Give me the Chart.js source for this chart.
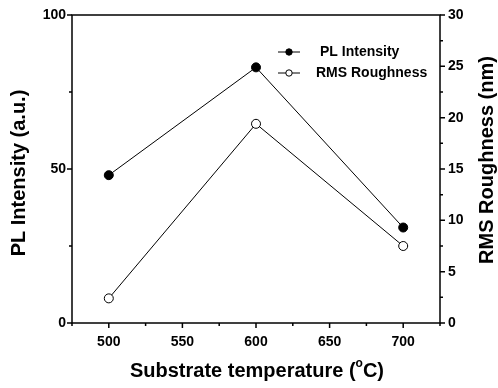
<!DOCTYPE html>
<html>
<head>
<meta charset="utf-8">
<script src="https://cdn.jsdelivr.net/npm/chart.js@4.4.0/dist/chart.umd.min.js"></script>
<style>
  html, body { margin: 0; padding: 0; background: #fff; }
  #wrap { width: 498px; height: 388px; position: relative; }
</style>
</head>
<body>
<div id="wrap"><canvas id="chart"></canvas></div>
<script>
// data
const temperatures = [500, 600, 700];
const plIntensity = [48, 83, 31];        // a.u., left axis
const rmsRoughness = [2.4, 19.4, 7.5];   // nm, right axis

const seriesNames = ['PL Intensity', 'RMS Roughness'];
const axisTitles = { x: 'Substrate temperature (', xUnit: 'C)', y: 'PL Intensity (a.u.)', y2: 'RMS Roughness (nm)' };
const FONT = '"Liberation Sans", Arial, Helvetica, sans-serif';

// frame, tick marks (major/minor), axis titles and inline legend
const framePlugin = {
  id: 'frame',
  afterDraw(chart) {
    const { ctx, chartArea: a, scales } = chart;
    ctx.save();
    ctx.strokeStyle = '#000';
    ctx.lineWidth = 1.5;
    ctx.strokeRect(a.left, a.top, a.right - a.left, a.bottom - a.top);

    ctx.beginPath();
    scales.x.ticks.forEach(t => {
      const px = scales.x.getPixelForValue(t.value);
      const len = t.value % 50 === 0 ? 5 : 3;
      ctx.moveTo(px, a.bottom); ctx.lineTo(px, a.bottom + len);
    });
    scales.y.ticks.forEach(t => {
      const py = scales.y.getPixelForValue(t.value);
      const len = t.value % 50 === 0 ? 5 : 3;
      ctx.moveTo(a.left, py); ctx.lineTo(a.left - len, py);
    });
    scales.y2.ticks.forEach(t => {
      const py = scales.y2.getPixelForValue(t.value);
      const len = t.value % 5 === 0 ? 5 : 3;
      ctx.moveTo(a.right, py); ctx.lineTo(a.right + len, py);
    });
    ctx.stroke();

    // axis titles (both y titles read bottom-to-top)
    ctx.fillStyle = '#000';
    ctx.textBaseline = 'middle';
    ctx.textAlign = 'center';
    ctx.font = 'bold 20px ' + FONT;
    [[19, 173, axisTitles.y], [487, 160, axisTitles.y2]].forEach(([x, y, s]) => {
      ctx.save();
      ctx.translate(x, y);
      ctx.rotate(-Math.PI / 2);
      ctx.fillText(s, 0, 0);
      ctx.restore();
    });
    // x title with superscript degree "o"
    const w1 = ctx.measureText(axisTitles.x).width;
    const w3 = ctx.measureText(axisTitles.xUnit).width;
    ctx.font = 'bold 12px ' + FONT;
    const w2 = ctx.measureText('o').width;
    let x0 = 257 - (w1 + w2 + w3) / 2;
    const ty = 371;
    ctx.textAlign = 'left';
    ctx.font = 'bold 20px ' + FONT;
    ctx.fillText(axisTitles.x, x0, ty);
    ctx.font = 'bold 12px ' + FONT;
    ctx.fillText('o', x0 + w1, ty - 7);
    ctx.font = 'bold 20px ' + FONT;
    ctx.fillText(axisTitles.xUnit, x0 + w1 + w2, ty);

    // legend
    const lx = 278, rows = [52, 73];
    ctx.font = 'bold 14px ' + FONT;
    ctx.lineWidth = 1;
    rows.forEach((y, i) => {
      ctx.beginPath();
      ctx.moveTo(lx, y); ctx.lineTo(lx + 22, y);
      ctx.stroke();
      ctx.beginPath();
      ctx.arc(lx + 11, y, 3.2, 0, Math.PI * 2);
      ctx.fillStyle = i === 0 ? '#000' : '#fff';
      ctx.fill();
      ctx.stroke();
      ctx.fillStyle = '#000';
      ctx.fillText(seriesNames[i], i === 0 ? 320 : 316, y);
    });
    ctx.restore();
  }
};

const tickFont = { family: FONT, size: 14, weight: 'bold' };

new Chart(document.getElementById('chart'), {
  type: 'line',
  data: {
    datasets: [
      {
        label: seriesNames[0],
        data: temperatures.map((t, i) => ({ x: t, y: plIntensity[i] })),
        yAxisID: 'y',
        borderColor: '#000', borderWidth: 1,
        pointRadius: 4.5, pointBackgroundColor: '#000', pointBorderColor: '#000',
        tension: 0
      },
      {
        label: seriesNames[1],
        data: temperatures.map((t, i) => ({ x: t, y: rmsRoughness[i] })),
        yAxisID: 'y2',
        borderColor: '#000', borderWidth: 1,
        pointRadius: 4.5, pointBackgroundColor: '#fff', pointBorderColor: '#000', pointBorderWidth: 1,
        tension: 0
      }
    ]
  },
  options: {
    responsive: true, maintainAspectRatio: false, animation: false,
    layout: { padding: { top: 15, left: 0, right: 0, bottom: 0 } },
    plugins: { legend: { display: false }, tooltip: { enabled: false } },
    scales: {
      x: {
        type: 'linear', min: 475, max: 725,
        grid: { drawOnChartArea: false, color: 'rgba(0,0,0,0)', tickLength: 5 },
        border: { display: false },
        ticks: {
          stepSize: 25, autoSkip: false, maxRotation: 0, color: '#000', font: tickFont, padding: 6,
          callback: v => (v % 50 === 0 && v >= 500 && v <= 700) ? v : ''
        },
        afterFit: s => { s.height = 65; }
      },
      y: {
        position: 'left', min: 0, max: 100,
        grid: { drawOnChartArea: false, color: 'rgba(0,0,0,0)', tickLength: 5 },
        border: { display: false },
        ticks: {
          stepSize: 25, autoSkip: false, color: '#000', font: tickFont, padding: 1,
          callback: v => v % 50 === 0 ? v : ''
        },
        afterFit: s => { s.width = 72; }
      },
      y2: {
        position: 'right', min: 0, max: 30,
        grid: { drawOnChartArea: false, color: 'rgba(0,0,0,0)', tickLength: 5 },
        border: { display: false },
        ticks: {
          stepSize: 2.5, autoSkip: false, color: '#000', font: tickFont, padding: 3,
          callback: v => v % 5 === 0 ? v : ''
        },
        afterFit: s => { s.width = 58; }
      }
    }
  },
  plugins: [framePlugin]
});
</script>
</body>
</html>
